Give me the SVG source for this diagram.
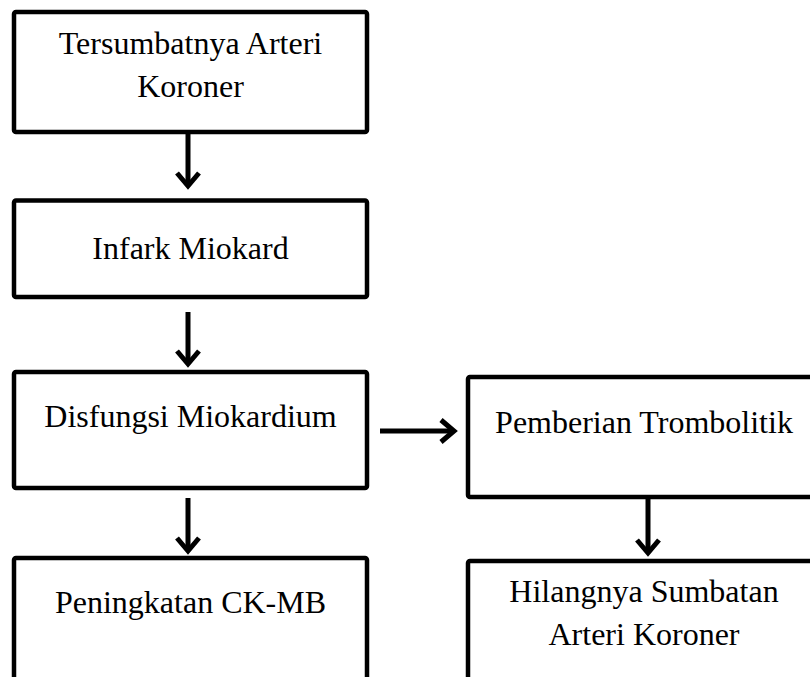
<svg xmlns="http://www.w3.org/2000/svg" width="810" height="677" viewBox="0 0 810 677">
<style>
.box{fill:#ffffff;stroke:#000000;stroke-width:4.5;stroke-linejoin:round}
.lbl{font-family:"Liberation Serif","Times New Roman",serif;font-size:32px;fill:#000000;text-anchor:middle}
.arr{stroke:#000000;stroke-width:5;fill:none;marker-end:url(#head)}
</style>
<defs>
<marker id="head" markerUnits="userSpaceOnUse" markerWidth="40" markerHeight="40" refX="0" refY="0" orient="auto" overflow="visible">
<path d="M -13,-11 L 0,0 L -13,11" fill="none" stroke="#000000" stroke-width="5" stroke-linejoin="miter"/>
</marker>
</defs>
<rect width="810" height="677" fill="#ffffff"/>
<g id="connectors">
<line class="arr" x1="188" y1="133" x2="188" y2="186"/>
<line class="arr" x1="188" y1="312" x2="188" y2="364"/>
<line class="arr" x1="188" y1="498" x2="188" y2="551"/>
<line class="arr" x1="380" y1="431" x2="454" y2="431"/>
<line class="arr" x1="648" y1="497" x2="648" y2="553"/>
</g>
<g id="node1">
<rect class="box" x="14" y="12" width="353" height="120" rx="2"/>
<text class="lbl" x="190.5" y="54">Tersumbatnya Arteri</text>
<text class="lbl" x="190.5" y="97">Koroner</text>
</g>
<g id="node2">
<rect class="box" x="14" y="200.5" width="353" height="96.5" rx="2"/>
<text class="lbl" x="190.5" y="259">Infark Miokard</text>
</g>
<g id="node3">
<rect class="box" x="14" y="372" width="353" height="116" rx="2"/>
<text class="lbl" x="190.5" y="427">Disfungsi Miokardium</text>
</g>
<g id="node4">
<rect class="box" x="14" y="558" width="353" height="135" rx="2"/>
<text class="lbl" x="190.5" y="613">Peningkatan CK-MB</text>
</g>
<g id="node5">
<rect class="box" x="468" y="377" width="360" height="120" rx="2"/>
<text class="lbl" x="644" y="433">Pemberian Trombolitik</text>
</g>
<g id="node6">
<rect class="box" x="468" y="561" width="360" height="135" rx="2"/>
<text class="lbl" x="644" y="602">Hilangnya Sumbatan</text>
<text class="lbl" x="644" y="645">Arteri Koroner</text>
</g>
</svg>
